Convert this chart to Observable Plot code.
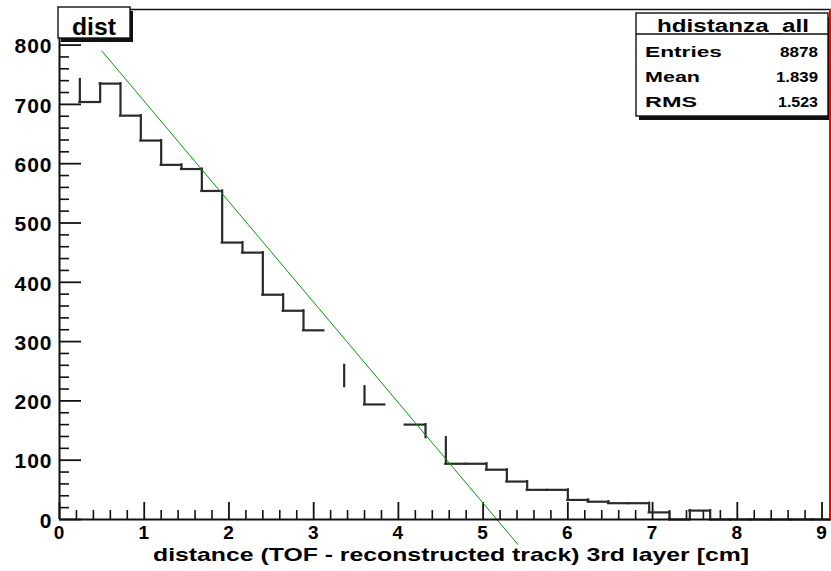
<!DOCTYPE html>
<html>
<head>
<meta charset="utf-8">
<script src="https://cdn.jsdelivr.net/npm/d3@7"></script>
<script src="https://cdn.jsdelivr.net/npm/@observablehq/plot@0.6"></script>
<style>
  html, body { margin: 0; padding: 0; background: #fff; }
  #chart svg { display: block; }
</style>
</head>
<body>
<div id="chart"></div>
<script>
// Histogram "hdistanza_all": TOF hit to reconstructed track distance, 3rd layer
const histName = "hdistanza_all";
const histTitle = "dist";
const xTitle = "distance (TOF - reconstructed track) 3rd layer [cm]";

// statistics box
const statLabels = ["Entries", "Mean", "RMS"];
const statValues = ["8878", "1.839", "1.523"];

// bin contents, bins of 0.24 cm starting at 0
const binWidth = 0.24;
const counts = [742, 704, 735, 681, 639, 598, 591, 554, 467, 450,
                379, 352, 319, 260, 224, 194, 178, 160, 138, 94,
                94, 84, 64, 50, 50, 33, 30, 27.5, 27.5, 12,
                0, 15, 0, 0, 0, 0, 0, 0];
// outline pieces left undrawn: bin tops and the risers at the given bin edges
const hiddenTops = [0, 13, 14, 16, 18];
const hiddenRisers = [13, 16, 17];

// straight-line fit drawn over the falling edge (end points)
const fitX = [0.5, 5.41];
const fitY = [790, -42];

// axis ticks and labels
const xTicks = [0, 1, 2, 3, 4, 5, 6, 7, 8, 9];
const yTicks = [0, 100, 200, 300, 400, 500, 600, 700, 800];

const W = 831, H = 571;
const M = {top: 9, right: 1, bottom: 52, left: 59};
const frameW = W - M.left - M.right;
const frameH = H - M.top - M.bottom;
const xMax = 9.1, yMax = 860;

const xMinor = d3.range(1, 46).map(k => k / 5).filter(v => v % 1 !== 0);
const yMinor = d3.range(20, yMax, 20).filter(v => v % 100 !== 0);

const tops = counts
  .map((c, i) => ({i, x1: i * binWidth, x2: Math.min((i + 1) * binWidth, xMax), y: c}))
  .filter(d => d.x1 < xMax && !hiddenTops.includes(d.i));
const risers = counts.slice(1)
  .map((c, k) => ({i: k + 1, x: (k + 1) * binWidth, y1: counts[k], y2: c}))
  .filter(d => d.x < xMax && d.y1 !== d.y2 && !hiddenRisers.includes(d.i));
const fit = fitX.map((x, i) => ({x, y: fitY[i]}));

const ink = "#111";
const histInk = "#2a2a2a";

const plot = Plot.plot({
  width: W,
  height: H,
  marginTop: M.top,
  marginRight: M.right,
  marginBottom: M.bottom,
  marginLeft: M.left,
  x: {domain: [0, xMax], axis: null},
  y: {domain: [0, yMax], axis: null},
  style: {
    fontFamily: "'Liberation Sans', Arial, sans-serif",
    fontWeight: "bold",
    background: "#fff",
    color: "#000",
    overflow: "visible"
  },
  marks: [
    // inward ticks
    Plot.tickX(xMinor, {x: d => d, insetTop: frameH - 9, stroke: ink, strokeWidth: 1.6}),
    Plot.tickX(xTicks, {x: d => d, insetTop: frameH - 17, stroke: ink, strokeWidth: 1.8}),
    Plot.tickY(yMinor, {y: d => d, insetRight: frameW - 10, stroke: ink, strokeWidth: 1.6}),
    Plot.tickY(yTicks, {y: d => d, insetRight: frameW - 22, stroke: ink, strokeWidth: 1.8}),
    // histogram outline
    Plot.ruleY(tops, {x1: "x1", x2: "x2", y: "y", stroke: histInk, strokeWidth: 2.2, strokeLinecap: "square"}),
    Plot.ruleX(risers, {x: "x", y1: "y1", y2: "y2", stroke: histInk, strokeWidth: 2.2, strokeLinecap: "square"}),
    // fit line
    Plot.line(fit, {x: "x", y: "y", stroke: "#009a00", strokeWidth: 1}),
    // frame
    Plot.ruleX([0], {stroke: ink, strokeWidth: 2}),
    Plot.ruleY([0], {stroke: ink, strokeWidth: 2}),
    Plot.ruleY([yMax], {stroke: ink, strokeWidth: 1.6, insetRight: -2}),
    // axis labels
    Plot.axisX(xTicks, {tickSize: 0, tickPadding: 6, fontSize: 19, label: null}),
    Plot.axisY(yTicks, {tickSize: 0, tickPadding: 7, fontSize: 21, dy: 1.5, label: null}),
    Plot.text([xTitle], {frameAnchor: "bottom", dy: 35, dx: 6, fontSize: 19, lineAnchor: "middle"})
  ]
});

document.getElementById("chart").appendChild(plot);

const svg = d3.select(plot);
const xs = plot.scale("x");
const ys = plot.scale("y");

// tick label spacing
svg.selectAll("text").style("letter-spacing", "1px");
svg.selectAll("text")
  .filter(function () { return this.textContent === xTitle; })
  .attr("textLength", 596)
  .attr("lengthAdjust", "spacingAndGlyphs")
  .style("letter-spacing", null);

// title box at the top left of the frame
const tb = {x: M.left - 1, y: 7, w: 72, h: 31};
const title = svg.append("g");
title.append("rect").attr("x", tb.x + 3).attr("y", tb.y + 4).attr("width", tb.w).attr("height", tb.h).attr("fill", ink);
title.append("rect").attr("x", tb.x).attr("y", tb.y).attr("width", tb.w).attr("height", tb.h)
  .attr("fill", "#fff").attr("stroke", ink).attr("stroke-width", 1.4);
title.append("text").attr("x", tb.x + tb.w / 2).attr("y", tb.y + 28).attr("text-anchor", "middle")
  .attr("font-size", 23).attr("textLength", 44).attr("lengthAdjust", "spacingAndGlyphs")
  .text(histTitle);

// statistics box at the top right
const sb = {x: 636, y: 13, w: 192, h: 103, head: 21};
const stats = svg.append("g");
stats.append("rect").attr("x", sb.x + 3).attr("y", sb.y + 4).attr("width", sb.w).attr("height", sb.h).attr("fill", ink);
stats.append("rect").attr("x", sb.x).attr("y", sb.y).attr("width", sb.w).attr("height", sb.h)
  .attr("fill", "#fff").attr("stroke", ink).attr("stroke-width", 1.4);
stats.append("line").attr("x1", sb.x).attr("x2", sb.x + sb.w).attr("y1", sb.y + sb.head).attr("y2", sb.y + sb.head)
  .attr("stroke", ink).attr("stroke-width", 1.4);
stats.append("text").attr("x", sb.x + sb.w / 2 + 1).attr("y", sb.y + 18.5).attr("text-anchor", "middle")
  .attr("font-size", 18).attr("textLength", 152).attr("lengthAdjust", "spacingAndGlyphs")
  .text(histName);
const labelLen = [77, 55, 52];
const valueLen = [38, 42, 40];
statLabels.forEach((s, i) => {
  const base = sb.y + 44.3 + i * 24.7;
  stats.append("text").attr("x", sb.x + 9).attr("y", base).attr("font-size", 15)
    .attr("text-anchor", "start")
    .attr("textLength", labelLen[i]).attr("lengthAdjust", "spacingAndGlyphs").text(s);
  stats.append("text").attr("x", sb.x + sb.w - 10).attr("y", base).attr("font-size", 15)
    .attr("text-anchor", "end").attr("textLength", valueLen[i]).attr("lengthAdjust", "spacingAndGlyphs")
    .text(statValues[i]);
});

// highlighted right edge of the frame
svg.append("line")
  .attr("x1", xs.apply(xMax)).attr("x2", xs.apply(xMax))
  .attr("y1", ys.apply(yMax)).attr("y2", ys.apply(0))
  .attr("stroke", "#ff0000").attr("stroke-width", 2);
</script>
</body>
</html>
